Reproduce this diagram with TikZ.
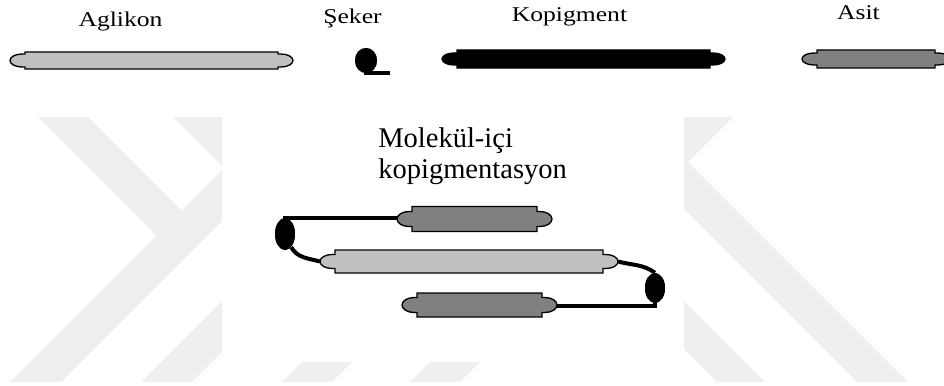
\documentclass[tikz,border=0pt]{standalone}
\usepackage{fontspec}
\setmainfont{Liberation Serif}
\usetikzlibrary{shapes.geometric}
\definecolor{wm}{RGB}{239,239,239}
\definecolor{lgray}{RGB}{192,192,192}
\definecolor{dgray}{RGB}{128,128,128}
% #1 name, #2 x1, #3 x2, #4 ymid, #5 half height, #6 cap half height, #7 cap width, #8 fill
\newcommand\molbar[8]{%
  \pgfmathsetmacro\mbry{#6*0.75}%
  \pgfmathsetmacro\mbrx{(#7-3)*0.75}%
  \filldraw[barline,fill=#8] ({#2+#7},{#4-#5}) -- ({#3-#7},{#4-#5}) -- ({#3-#7},{#4-#6})
    -- ({#3-#7+3},{#4-#6}) arc[start angle=90,end angle=-90,x radius=\mbrx pt,y radius=\mbry pt]
    -- ({#3-#7},{#4+#6}) -- ({#3-#7},{#4+#5}) -- ({#2+#7},{#4+#5}) -- ({#2+#7},{#4+#6})
    -- ({#2+#7-3},{#4+#6}) arc[start angle=270,end angle=90,x radius=\mbrx pt,y radius=\mbry pt]
    -- ({#2+#7},{#4-#6}) -- cycle;
  \coordinate (#1-w) at (#2,#4);
  \coordinate (#1-e) at (#3,#4);
}
\begin{document}
\begin{tikzpicture}[x=0.75pt,y=-0.75pt,
  wmfill/.style={fill=wm,draw=none},
  barline/.style={draw=black,line width=1pt},
  conn/.style={draw=black,line width=3pt},
  blob/.style={ellipse,fill=black,draw=none,inner sep=0pt},
  toplbl/.style={anchor=base,inner sep=0pt,font=\fontsize{15.75}{18}\selectfont},
  midlbl/.style={anchor=base west,inner sep=0pt,font=\fontsize{21.4}{23}\selectfont}]
\useasboundingbox (0,0) rectangle (944,385);
% watermark
\begin{scope}
  \clip (0,117) rectangle (222,381);
  \fill[wmfill] (-79,0) -- (156.5,235.5) -- (181.5,210.5) -- (-29,0) -- cycle;
  \fill[wmfill] (392,0) -- (-8,400) -- (43,400) -- (443,0) -- cycle;
  \fill[wmfill] (56,0) -- (300,244) -- (400,0) -- cycle;
  \fill[wmfill] (523,0) -- (123,400) -- (174,400) -- (574,0) -- cycle;
\end{scope}
\begin{scope}
  \clip (684,117) rectangle (944,381);
  \fill[wmfill] (850,0) -- (450,400) -- (0,400) -- (0,0) -- cycle;
  \fill[wmfill] (526,0) -- (926,400) -- (875,400) -- (475,0) -- cycle;
  \fill[wmfill] (383,0) -- (783,400) -- (735,400) -- (335,0) -- cycle;
\end{scope}
\begin{scope}
  \clip (222,362) rectangle (684,381);
  \fill[wmfill] (664,0) -- (264,400) -- (314,400) -- (714,0) -- cycle;
  \fill[wmfill] (792,0) -- (392,400) -- (442,400) -- (842,0) -- cycle;
\end{scope}
% labels
\node[toplbl] (aglikon) at (120.5,27) {\scalebox{1.22}[1]{Aglikon}};
\node[toplbl] (seker) at (352.5,24) {\scalebox{1.22}[1]{Şeker}};
\node[toplbl] (kopigment) at (569.5,22) {\scalebox{1.22}[1]{Kopigment}};
\node[toplbl] (asit) at (858.5,20) {\scalebox{1.22}[1]{Asit}};
\node[midlbl] (mol1) at (378,147) {Molekül-içi};
\node[midlbl] (mol2) at (378,178) {kopigmentasyon};
% blob positions
\node[blob,minimum width=16.5pt,minimum height=18.75pt] (sblob) at (366,60.5) {};
\node[blob,minimum width=15pt,minimum height=24pt] (lblob) at (285,234) {};
\node[blob,minimum width=15pt,minimum height=22.5pt] (rblob) at (655,288) {};
\coordinate (stail) at (390,73.3);
% bar end coordinates (needed before connectors)
\path (397,217.5) coordinate (acidtop-w) (320,261.5) coordinate (aglmid-w)
      (618,261.5) coordinate (aglmid-e) (557,306) coordinate (acidbot-e);
% connectors
\draw[conn] (sblob.center) |- (stail);
\draw[conn] (acidtop-w) -| (lblob.center);
\draw[conn] (lblob.-65) to[out=-60,in=165] (aglmid-w);
\draw[conn] (aglmid-e) to[out=-15,in=145] (rblob.north);
\draw[conn] (rblob.center) |- (acidbot-e);
% bars
\molbar{aglbar}{10}{293}{60.5}{8.5}{6.5}{15}{lgray}
\molbar{kopbar}{442}{725}{59}{9}{6}{15}{black}
\molbar{asitbar}{802}{950}{59}{9}{6}{15}{dgray}
\molbar{acidtop}{397}{552}{219}{12.5}{7.5}{15}{dgray}
\molbar{aglmid}{320}{618}{261.5}{11.5}{7}{15}{lgray}
\molbar{acidbot}{402}{557}{305}{12}{7.5}{15}{dgray}
% blobs on top
\node[blob,minimum width=16.5pt,minimum height=18.75pt] at (sblob) {};
\node[blob,minimum width=15pt,minimum height=24pt] at (lblob) {};
\node[blob,minimum width=15pt,minimum height=22.5pt] at (rblob) {};
\end{tikzpicture}
\end{document}
